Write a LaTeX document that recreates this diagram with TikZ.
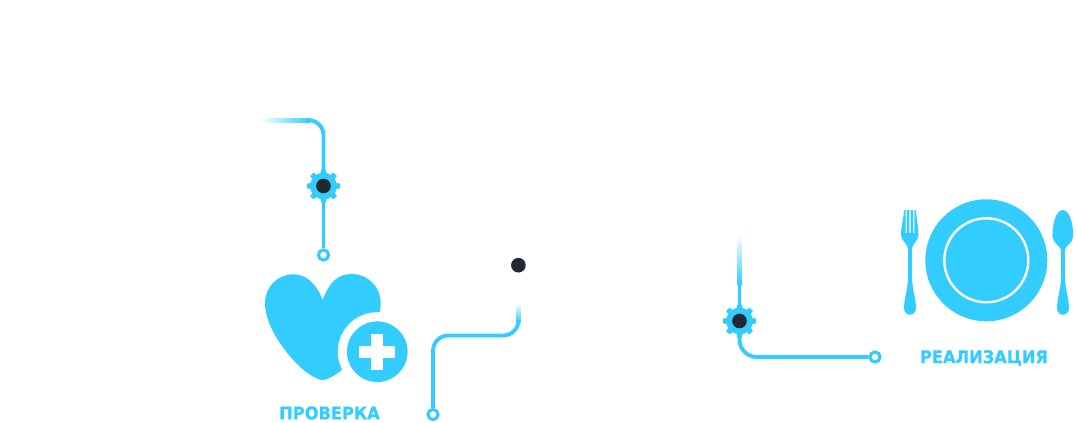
\documentclass[tikz,border=0pt]{standalone}
\usepackage{fontspec}
\usetikzlibrary{calc}
\setmainfont{DejaVu Sans}[FakeStretch=0.93,BoldFeatures={FakeBold=0.6,FakeStretch=0.93}]
\definecolor{skyb}{HTML}{33CCFF}
\definecolor{darkd}{HTML}{1F2933}
\tikzset{
  wire/.style={draw=skyb,line width=2.9pt},
  ringend/.style={circle,draw=skyb,fill=white,line width=2.3pt,minimum size=7.6pt,inner sep=0pt},
  gearbody/.style={circle,fill=skyb,minimum size=20pt,inner sep=0pt},
  hub/.style={circle,fill=darkd,minimum size=11pt,inner sep=0pt},
  label/.style={text=skyb,font=\fontsize{13.1}{15}\selectfont\bfseries,inner sep=0pt},
  bluefill/.style={fill=skyb,draw=none}
}
\newcommand{\gearat}[1]{%
  \foreach \a in {0,45,...,315}{
    \fill[skyb] ($(#1)+(\a:11)+(\a+90:3.2)$) -- ($(#1)+(\a:16.5)+(\a+90:2.4)$) -- ($(#1)+(\a:16.5)+(\a-90:2.4)$) -- ($(#1)+(\a:11)+(\a-90:3.2)$) -- cycle;
  }
}
\begin{document}
\begin{tikzpicture}[x=0.75pt,y=-0.75pt]
\useasboundingbox (0,0) rectangle (1078,422);
% connector 1
\coordinate (a1) at (310,120);
\coordinate (c1) at (323.5,120);
\node[gearbody] (g1) at (323.5,186) {};
\node[ringend] (r1) at (323.5,255) {};
\shade[left color=white,right color=skyb] (260,118) rectangle (310,122);
\draw[wire,rounded corners=11.5] (a1) -- (c1) -- (g1.center);
\draw[wire] (g1.center) -- (r1);
\gearat{g1}
\node[hub] at (g1) {};
% heart
\fill[bluefill] (322.7,300) .. controls (316,283) and (306,274.3) .. (293.3,274.3)
  .. controls (277.5,274.3) and (265,287) .. (265,303)
  .. controls (265,322) and (278,343) .. (293.3,360)
  .. controls (303,371) and (316,380) .. (322.7,380)
  .. controls (329,380) and (340,372) .. (352,362)
  .. controls (370,345) and (380.7,320) .. (380.7,303)
  .. controls (380.7,287) and (368,274) .. (351.7,274)
  .. controls (337,274) and (329,283) .. (322.7,300) -- cycle;
\fill[white] (377.3,351.7) circle (39.5);
\fill[skyb] (377.3,351.7) circle (30.3);
\fill[white] (359.3,345.7) rectangle (395.3,357.7);
\fill[white] (371.3,333.7) rectangle (383.3,369.7);
\node[label] (t1) at (329.5,413) {ПРОВЕРКА};
% connector 2
\node[hub] (h2) at (518.4,265.2) {};
\node[ringend] (r2) at (433,414.5) {};
\coordinate (k2) at (518.5,322);
\shade[top color=white,bottom color=skyb] (516.5,303) rectangle (520.5,322);
\draw[wire,rounded corners=11.5] (k2) -- (518.5,335.5) -- (433,335.5) -- (r2);
% connector 3
\node[gearbody] (g3) at (739.5,321) {};
\node[ringend] (r3) at (875,357) {};
\shade[top color=white,bottom color=skyb] (737.5,235) rectangle (741.5,285);
\draw[wire] (739.5,285) -- (g3.center);
\draw[wire,rounded corners=13] (g3.center) -- (739.5,357) -- (r3);
\gearat{g3}
\node[hub] at (g3) {};
% plate
\fill[skyb] (986.3,260.3) circle (61);
\draw[white,line width=1.8pt] (986.3,260.3) circle (42);
% fork
\fill[bluefill] (904,210) -- (905.6,210) -- (905.6,233) -- (906.8,233) -- (906.8,210) -- (909.4,210) -- (909.4,233) -- (910.6,233) -- (910.6,210) -- (913.2,210) -- (913.2,233) -- (914.4,233) -- (914.4,210) -- (916,210)
  .. controls (916.2,218) and (918.4,226) .. (918.4,235)
  .. controls (918.4,241) and (912,244) .. (911.9,249)
  -- (911.9,275) .. controls (912,290) and (916,298) .. (916,308)
  .. controls (916,317) and (904,317) .. (904,308)
  .. controls (904,298) and (908,290) .. (908.1,275)
  -- (908.1,249) .. controls (908,244) and (901,241) .. (901,235)
  .. controls (901,226) and (903.8,218) .. (904,210) -- cycle;
% spoon
\fill[bluefill] (1062.8,210) .. controls (1069,210) and (1073.2,222) .. (1073.2,236)
  .. controls (1073.2,243) and (1065,246) .. (1064.8,250)
  -- (1064.8,275) .. controls (1065,290) and (1069,298) .. (1069,308)
  .. controls (1069,317) and (1057,317) .. (1057,308)
  .. controls (1057,298) and (1061,290) .. (1061,275)
  -- (1061,250) .. controls (1060.6,246) and (1052.4,243) .. (1052.4,236)
  .. controls (1052.4,222) and (1056.6,210) .. (1062.8,210) -- cycle;
\node[label] (t2) at (984,358) {РЕАЛИЗАЦИЯ};
\end{tikzpicture}
\end{document}
